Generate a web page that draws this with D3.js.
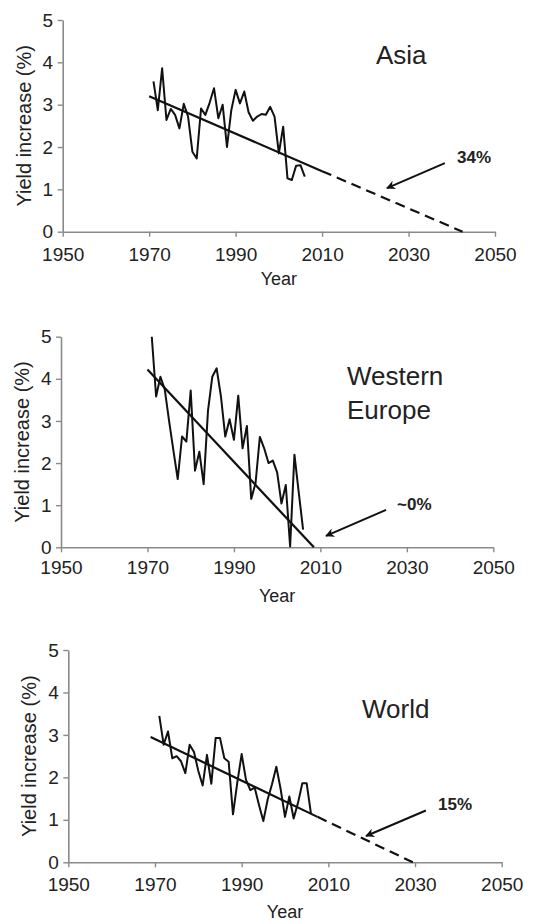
<!DOCTYPE html>
<html lang="en">
<head>
<meta charset="utf-8">
<script src="https://d3js.org/d3.v7.min.js"></script>
<style>
    body { margin: 0; background: #fff; }
    text { font-family: "Liberation Sans", Arial, sans-serif; }
</style>
<title>Yield increase</title>
</head>
<body>
<div id="chart"></div>
<script>

// ---- data ----
var years = d3.range(1971, 2007);

var asiaValues = [3.55, 2.87, 3.86, 2.64, 2.9, 2.76, 2.44, 3.02, 2.72, 1.89, 1.73, 2.91, 2.76, 3.05, 3.39, 2.68,
                  3.0, 2.0, 2.87, 3.35, 3.03, 3.31, 2.82, 2.62, 2.72, 2.78, 2.76, 2.95, 2.72, 1.85, 2.48, 1.26,
                  1.22, 1.56, 1.57, 1.3];
var europeValues = [5.0, 3.58, 4.05, 3.75, 3.0, 2.3, 1.62, 2.63, 2.51, 3.72, 1.82, 2.27, 1.5, 3.24, 4.05, 4.25,
                    3.58, 2.63, 3.04, 2.55, 3.6, 2.35, 2.88, 1.15, 1.52, 2.62, 2.35, 2.0, 2.06, 1.78, 1.04, 1.48,
                    0.02, 2.2, 1.3, 0.42];
var worldValues = [3.45, 2.77, 3.08, 2.45, 2.5, 2.38, 2.1, 2.77, 2.6, 2.15, 1.81, 2.53, 1.85, 2.93, 2.93, 2.45,
                   2.37, 1.13, 1.88, 2.55, 1.94, 1.7, 1.76, 1.35, 0.97, 1.48, 1.84, 2.25, 1.72, 1.07, 1.55, 1.03,
                   1.4, 1.86, 1.86, 1.14];

// trend lines: solid fitted part and dashed projection
var asiaTrend = [[1970, 3.2], [2010, 1.43]];
var asiaProjection = [[2010, 1.43], [2042.5, 0]];
var europeTrend = [[1970, 4.22], [2008.5, 0]];
var europeProjection = [];
var worldTrend = [[1969, 2.95], [2007.5, 1.07]];
var worldProjection = [[2007.5, 1.07], [2029.5, 0]];

// arrows (from, to) and their labels
var asiaArrow = [[2038.4, 1.62], [2025.0, 1.03]];
var europeArrow = [[2025.2, 0.89], [2011.3, 0.27]];
var worldArrow = [[2032.5, 1.22], [2018.7, 0.62]];

var regionNames = [["Asia"], ["Western", "Europe"], ["World"]];
var changeLabels = ["34%", "~0%", "15%"];

var xTicks = [1950, 1970, 1990, 2010, 2030, 2050];
var yTicks = [0, 1, 2, 3, 4, 5];
var xTitle = "Year";
var yTitle = "Yield increase (%)";

// ---- layout ----
var W = 547, H = 924;
var svg = d3.select("#chart").append("svg")
    .attr("width", W)
    .attr("height", H);

svg.append("defs").append("marker")
    .attr("id", "head")
    .attr("viewBox", "0 0 10 10")
    .attr("refX", 9).attr("refY", 5)
    .attr("markerUnits", "userSpaceOnUse")
    .attr("markerWidth", 12).attr("markerHeight", 9)
    .attr("orient", "auto")
  .append("path")
    .attr("d", "M0,0 L10,5 L0,10 L3,5 Z")
    .attr("fill", "#111");

var panels = [
    {values: asiaValues, trend: asiaTrend, proj: asiaProjection, arrow: asiaArrow,
     name: regionNames[0], label: changeLabels[0],
     left: 62.7, right: 495, top: 20, bottom: 231.7, xPad: 11,
     nameX: 376, nameY: 63.5, labelX: 457, labelY: 163, yearY: 285},
    {values: europeValues, trend: europeTrend, proj: europeProjection, arrow: europeArrow,
     name: regionNames[1], label: changeLabels[1],
     left: 61, right: 493.3, top: 336.7, bottom: 547.3, xPad: 8,
     nameX: 347, nameY: 385, labelX: 397, labelY: 510, yearY: 602},
    {values: worldValues, trend: worldTrend, proj: worldProjection, arrow: worldArrow,
     name: regionNames[2], label: changeLabels[2],
     left: 68.3, right: 501.7, top: 650, bottom: 862.3, xPad: 10,
     nameX: 362, nameY: 717.5, labelX: 438, labelY: 810, yearY: 918}
];

panels.forEach(function(p) {
    var x = d3.scaleLinear().domain([1950, 2050]).range([p.left, p.right]);
    var y = d3.scaleLinear().domain([0, 5]).range([p.bottom, p.top]);
    var g = svg.append("g");

    var xAxis = g.append("g")
        .attr("transform", "translate(0," + p.bottom + ")")
        .call(d3.axisBottom(x).tickValues(xTicks).tickFormat(d3.format("d"))
            .tickSize(5).tickSizeOuter(0).tickPadding(p.xPad));
    var yAxis = g.append("g")
        .attr("transform", "translate(" + p.left + ",0)")
        .call(d3.axisLeft(y).tickValues(yTicks).tickFormat(d3.format("d"))
            .tickSize(5).tickSizeOuter(0).tickPadding(4.5));

    [xAxis, yAxis].forEach(function(a) {
        a.select(".domain").attr("stroke", "#8a8a8a").attr("stroke-width", 1.6);
        a.selectAll(".tick line").attr("stroke", "#8a8a8a").attr("stroke-width", 1.4);
        a.selectAll(".tick text")
            .attr("fill", "#222")
            .style("font-size", "19px")
            .style("font-family", "'Liberation Sans', Arial, sans-serif");
    });

    g.append("text")
        .attr("x", (p.left + p.right) / 2)
        .attr("y", p.yearY)
        .attr("text-anchor", "middle")
        .attr("fill", "#222")
        .style("font-size", "18px")
        .text(xTitle);

    g.append("text")
        .attr("transform", "rotate(-90)")
        .attr("x", -(p.top + p.bottom) / 2)
        .attr("y", p.left - 39)
        .attr("dy", "0.35em")
        .attr("text-anchor", "middle")
        .attr("fill", "#222")
        .style("font-size", "20px")
        .text(yTitle);

    var line = d3.line()
        .x(function(d) { return x(d[0]); })
        .y(function(d) { return y(d[1]); });

    g.append("path")
        .datum(years.map(function(yr, i) { return [yr, p.values[i]]; }))
        .attr("d", line)
        .attr("fill", "none")
        .attr("stroke", "#111")
        .attr("stroke-width", 2)
        .attr("stroke-linejoin", "round");

    g.append("path")
        .datum(p.trend)
        .attr("d", line)
        .attr("fill", "none")
        .attr("stroke", "#111")
        .attr("stroke-width", 2.2);

    if (p.proj.length) {
        g.append("path")
            .datum(p.proj)
            .attr("d", line)
            .attr("fill", "none")
            .attr("stroke", "#111")
            .attr("stroke-width", 2.2)
            .attr("stroke-dasharray", "10,6");
    }

    g.append("line")
        .attr("x1", x(p.arrow[0][0])).attr("y1", y(p.arrow[0][1]))
        .attr("x2", x(p.arrow[1][0])).attr("y2", y(p.arrow[1][1]))
        .attr("stroke", "#111")
        .attr("stroke-width", 2)
        .attr("marker-end", "url(#head)");

    g.append("text")
        .attr("x", p.labelX)
        .attr("y", p.labelY)
        .attr("fill", "#222")
        .style("font-size", "17px")
        .style("font-weight", "bold")
        .text(p.label);

    p.name.forEach(function(n, i) {
        g.append("text")
            .attr("x", p.nameX)
            .attr("y", p.nameY + i * 34)
            .attr("fill", "#222")
            .style("font-size", "26px")
            .text(n);
    });
});

</script>
</body>
</html>
